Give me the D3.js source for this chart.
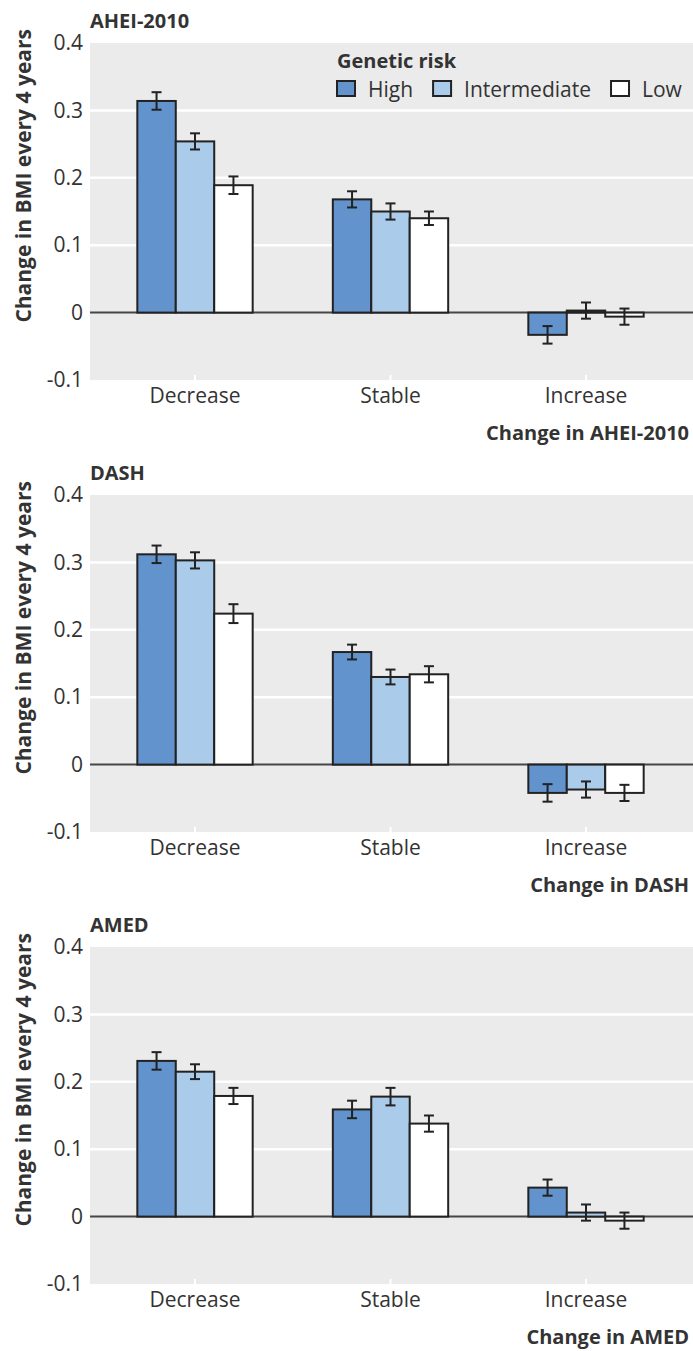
<!DOCTYPE html>
<html>
<head>
<meta charset="utf-8">
<style>
  body { margin: 0; background: #fff; }
  svg text { font-family: "Open Sans", "Noto Sans", sans-serif; fill: #333; }
</style>
</head>
<body>
<svg width="693" height="1351"></svg>
<script src="https://d3js.org/d3.v7.min.js"></script>
<script>
// data
const categories = ["Decrease", "Stable", "Increase"];
const riskGroups = ["High", "Intermediate", "Low"];
const panelTitles = ["AHEI-2010", "DASH", "AMED"];
const axisTitles = ["Change in AHEI-2010", "Change in DASH", "Change in AMED"];
const yTicks = [-0.1, 0, 0.1, 0.2, 0.3, 0.4];
const yTickLabels = ["-0.1", "0", "0.1", "0.2", "0.3", "0.4"];

// rows = risk group (High, Intermediate, Low), columns = category
const aheiValues = [[0.314, 0.168, -0.033], [0.254, 0.150, 0.003], [0.189, 0.140, -0.006]];
const aheiErrors = [[0.013, 0.012, 0.013], [0.012, 0.012, 0.012], [0.013, 0.010, 0.012]];
const dashValues = [[0.312, 0.167, -0.042], [0.303, 0.130, -0.037], [0.224, 0.134, -0.042]];
const dashErrors = [[0.013, 0.011, 0.013], [0.012, 0.011, 0.012], [0.014, 0.012, 0.012]];
const amedValues = [[0.231, 0.159, 0.043], [0.215, 0.178, 0.006], [0.179, 0.138, -0.006]];
const amedErrors = [[0.013, 0.013, 0.012], [0.011, 0.013, 0.012], [0.012, 0.012, 0.012]];

const panelValues = [aheiValues, dashValues, amedValues];
const panelErrors = [aheiErrors, dashErrors, amedErrors];

const colors = ["#6293cc", "#abcbea", "#ffffff"];

const svg = d3.select("svg");
const plotLeft = 90, plotRight = 693;
const panelTop0 = 43, panelStep = 452, plotH = 337;

const x0 = d3.scaleBand().domain(categories)
    .range([97.25, 683.75]).paddingInner(0.41).paddingOuter(0.205);
const x1 = d3.scaleBand().domain(riskGroups).range([0, x0.bandwidth()]);

panelTitles.forEach((title, p) => {
    const top = panelTop0 + p * panelStep;
    const y = d3.scaleLinear().domain([-0.1, 0.4]).range([top + plotH, top]);
    const g = svg.append("g");

    g.append("rect")
        .attr("x", plotLeft).attr("y", y(0.4))
        .attr("width", plotRight - plotLeft).attr("height", y(-0.1) - y(0.4))
        .attr("fill", "#ebebeb");

    g.selectAll(".grid").data([0.1, 0.2, 0.3]).join("line")
        .attr("x1", plotLeft).attr("x2", plotRight)
        .attr("y1", d => y(d)).attr("y2", d => y(d))
        .attr("stroke", "#fff").attr("stroke-width", 2.5);

    // small white ticks at category centres
    g.selectAll(".ctick").data(categories).join("line")
        .attr("x1", d => x0(d) + x0.bandwidth() / 2).attr("x2", d => x0(d) + x0.bandwidth() / 2)
        .attr("y1", y(-0.1) - 5).attr("y2", y(-0.1))
        .attr("stroke", "#fff").attr("stroke-width", 2);

    g.append("line")
        .attr("x1", plotLeft).attr("x2", plotRight)
        .attr("y1", y(0)).attr("y2", y(0))
        .attr("stroke", "#4a4545").attr("stroke-width", 2);

    // y axis
    const yAxis = d3.axisLeft(y).tickValues(yTicks).tickSize(0).tickPadding(7)
        .tickFormat((d, i) => yTickLabels[i]);
    const ya = g.append("g").attr("transform", `translate(${plotLeft},0)`).call(yAxis);
    ya.select(".domain").remove();
    ya.selectAll("text").attr("font-size", 21).attr("font-family", "Open Sans").attr("fill", "#333");

    // x axis category labels
    const xAxis = d3.axisBottom(x0).tickSize(0).tickPadding(8);
    const xa = g.append("g").attr("transform", `translate(0,${y(-0.1)})`).call(xAxis);
    xa.select(".domain").remove();
    xa.selectAll("text").attr("font-size", 21).attr("font-family", "Open Sans").attr("fill", "#333");

    // bars
    const vals = panelValues[p], errs = panelErrors[p];
    const rows = [];
    riskGroups.forEach((r, i) => categories.forEach((c, j) => {
        rows.push({risk: r, ri: i, cat: c, v: vals[i][j], e: errs[i][j]});
    }));

    g.selectAll(".bar").data(rows).join("rect")
        .attr("x", d => x0(d.cat) + x1(d.risk))
        .attr("y", d => y(Math.max(0, d.v)))
        .attr("width", x1.bandwidth())
        .attr("height", d => Math.abs(y(d.v) - y(0)))
        .attr("fill", d => colors[d.ri])
        .attr("stroke", "#222").attr("stroke-width", 2);

    const eb = g.selectAll(".err").data(rows).join("g")
        .attr("transform", d => `translate(${x0(d.cat) + x1(d.risk) + x1.bandwidth() / 2},0)`);
    eb.append("line").attr("y1", d => y(d.v + d.e)).attr("y2", d => y(d.v - d.e))
        .attr("stroke", "#222").attr("stroke-width", 2);
    eb.append("line").attr("x1", -5).attr("x2", 5)
        .attr("y1", d => y(d.v + d.e)).attr("y2", d => y(d.v + d.e))
        .attr("stroke", "#222").attr("stroke-width", 2);
    eb.append("line").attr("x1", -5).attr("x2", 5)
        .attr("y1", d => y(d.v - d.e)).attr("y2", d => y(d.v - d.e))
        .attr("stroke", "#222").attr("stroke-width", 2);

    // titles
    g.append("text").attr("x", plotLeft).attr("y", y(0.4) - 15)
        .attr("font-size", 20).attr("font-weight", "bold").attr("fill", "#222")
        .text(title);
    g.append("text").attr("x", 689).attr("y", y(-0.1) + 60)
        .attr("text-anchor", "end")
        .attr("font-size", 20).attr("font-weight", "bold").attr("fill", "#222")
        .text(axisTitles[p]);
    g.append("text")
        .attr("transform", `translate(31,${y(0.2) - 2}) rotate(-90)`)
        .attr("text-anchor", "middle")
        .attr("font-size", 21).attr("font-weight", "bold").attr("fill", "#222")
        .text("Change in BMI every 4 years");

    if (p === 0) {
        const lg = g.append("g");
        lg.append("text").attr("x", 337).attr("y", 68)
            .attr("font-size", 20).attr("font-weight", "bold").attr("fill", "#222")
            .text("Genetic risk");
        let lx = 337;
        riskGroups.forEach((r, i) => {
            lg.append("rect").attr("x", lx).attr("y", 81).attr("width", 18).attr("height", 15)
                .attr("fill", colors[i]).attr("stroke", "#222").attr("stroke-width", 2);
            const t = lg.append("text").attr("x", lx + 31).attr("y", 97)
                .attr("font-size", 21).text(r);
            lx += 31 + t.node().getComputedTextLength() + 20;
        });
    }
});
</script>
</body>
</html>
